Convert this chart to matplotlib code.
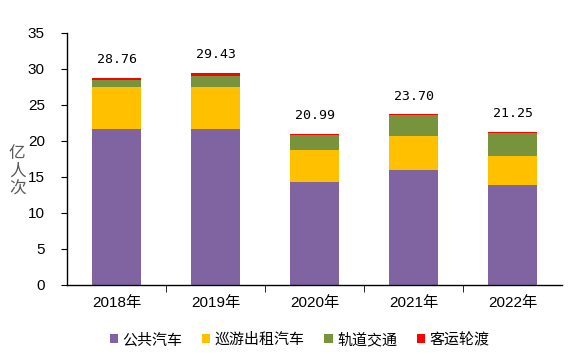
import matplotlib
matplotlib.use("Agg")
import matplotlib.pyplot as plt
import numpy as np

plt.rcParams['font.family'] = ['Liberation Sans', 'Noto Sans CJK SC', 'DejaVu Sans']

years = ["2018年", "2019年", "2020年", "2021年", "2022年"]
series_names = ["公共汽车", "巡游出租汽车", "轨道交通", "客运轮渡"]
bus = [21.67, 21.67, 14.30, 15.97, 13.89]
taxi = [5.83, 5.83, 4.45, 4.77, 4.03]
rail = [0.97, 1.57, 2.04, 2.83, 3.19]
ferry = [0.29, 0.36, 0.20, 0.13, 0.14]
totals = [28.76, 29.43, 20.99, 23.70, 21.25]
total_labels = ["28.76", "29.43", "20.99", "23.70", "21.25"]
colors = ["#8064A2", "#FFC000", "#77933C", "#FF0000"]

fig = plt.figure(figsize=(5.73, 3.54), dpi=100)
ax = fig.add_axes([0.117, 0.195, 0.864, 0.712])

x = np.arange(len(years))
bottom = np.zeros(len(years))
for vals, name, c in zip([bus, taxi, rail, ferry], series_names, colors):
    ax.bar(x, vals, width=0.5, bottom=bottom, color=c, label=name, linewidth=0)
    bottom += np.array(vals)

for xi, t, lab in zip(x, totals, total_labels):
    ax.annotate(lab, (xi, t), xytext=(0, 13), textcoords="offset points",
                ha="center", va="center", fontsize=9.5,
                family=['DejaVu Sans Mono'])

ax.set_xlim(-0.5, len(years) - 0.5)
ax.set_ylim(0, 35)
ax.set_yticks(np.arange(0, 36, 5))
ax.tick_params(axis='y', direction='out', length=4, labelsize=11, pad=12)
ax.set_xticks(x)
ax.set_xticklabels(years, fontsize=11)
ax.tick_params(axis='x', length=0, pad=8)
ax.set_xticks(np.arange(0.5, len(years) - 0.5, 1), minor=True)
ax.tick_params(axis='x', which='minor', direction='out', length=5)

for s in ['top', 'right']:
    ax.spines[s].set_visible(False)
for s in ['left', 'bottom']:
    ax.spines[s].set_color('black')
    ax.spines[s].set_linewidth(1.0)

fig.text(0.03, 0.517, "亿\n人\n次", ha='center', va='center', fontsize=12,
         linespacing=1.05, color='#595959', family=['Noto Sans CJK SC', 'DejaVu Sans'])

fig.legend(loc='center', bbox_to_anchor=(0.523, 0.04), ncol=4, frameon=False,
           handlelength=0.55, handleheight=0.55, handletextpad=0.3,
           columnspacing=1.3, prop={'family': ['Noto Sans CJK SC', 'DejaVu Sans'], 'size': 10.8})

fig.savefig("out.png", dpi=100)
